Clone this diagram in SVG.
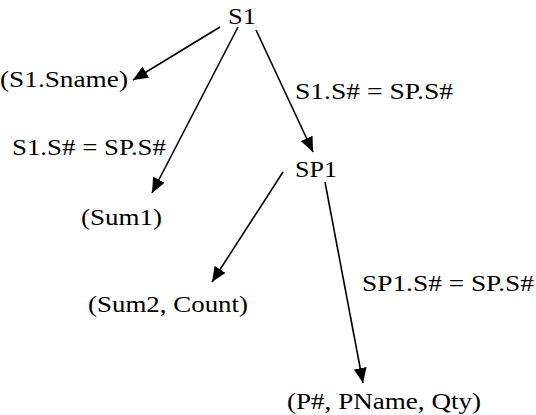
<svg xmlns="http://www.w3.org/2000/svg" width="536" height="415" viewBox="0 0 536 415">
  <style>
    .edge { stroke: #000; stroke-width: 1.6; fill: none; marker-end: url(#arrow); }
  </style>
  <defs>
    <marker id="arrow" markerUnits="userSpaceOnUse" markerWidth="16" markerHeight="13" refX="15" refY="6.5" orient="auto">
      <path d="M0,0 L15,6.5 L0,13 z" fill="#000"/>
    </marker>
  </defs>
  <rect width="536" height="415" fill="#fff"/>

  <!-- connectors -->
  <g id="connectors">
    <line class="edge" x1="220" y1="27" x2="133" y2="80"/>
    <line class="edge" x1="238" y1="27" x2="152" y2="193"/>
    <line class="edge" x1="256" y1="30" x2="313" y2="152"/>
    <line class="edge" x1="283" y1="172" x2="212" y2="282"/>
    <line class="edge" x1="325" y1="182" x2="363" y2="383"/>
  </g>

  <g font-family="'Liberation Serif', 'Times New Roman', serif" font-size="24" fill="#000">
    <!-- nodes -->
    <g id="node-s1"><text x="228" y="24" textLength="28" lengthAdjust="spacingAndGlyphs">S1</text></g>
    <g id="node-sname"><text x="0" y="87" textLength="128" lengthAdjust="spacingAndGlyphs">(S1.Sname)</text></g>
    <g id="node-sp1"><text x="295" y="177" textLength="42" lengthAdjust="spacingAndGlyphs">SP1</text></g>
    <g id="node-sum1"><text x="81" y="225" textLength="81" lengthAdjust="spacingAndGlyphs">(Sum1)</text></g>
    <g id="node-sum2"><text x="88" y="312" textLength="160" lengthAdjust="spacingAndGlyphs">(Sum2, Count)</text></g>
    <g id="node-pname"><text x="287" y="409" textLength="194" lengthAdjust="spacingAndGlyphs">(P#, PName, Qty)</text></g>

    <!-- edge labels -->
    <g id="labels">
      <text x="295" y="99" textLength="158" lengthAdjust="spacingAndGlyphs">S1.S# = SP.S#</text>
      <text x="12" y="155" textLength="154" lengthAdjust="spacingAndGlyphs">S1.S# = SP.S#</text>
      <text x="362" y="291" textLength="172" lengthAdjust="spacingAndGlyphs">SP1.S# = SP.S#</text>
    </g>
  </g>
</svg>
